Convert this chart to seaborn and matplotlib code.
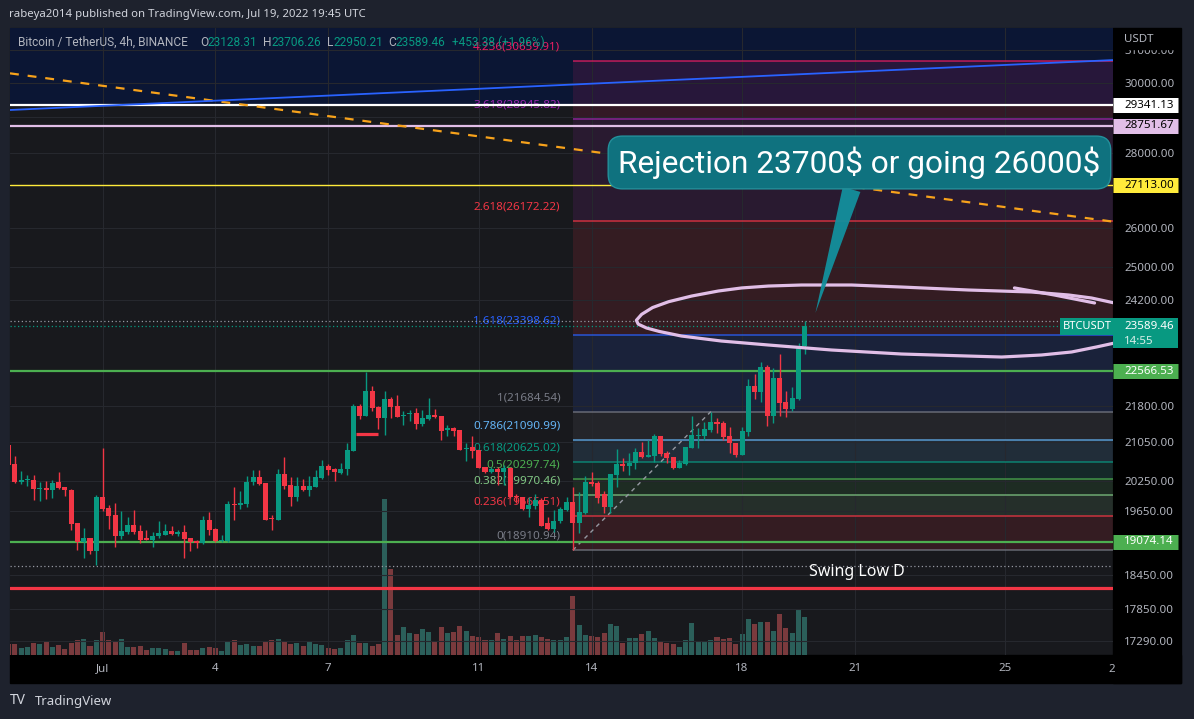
import matplotlib
matplotlib.use("Agg")
import matplotlib.pyplot as plt
import matplotlib.transforms as mtransforms
from matplotlib.patches import Rectangle
from matplotlib.ticker import NullLocator, NullFormatter
import numpy as np
import pandas as pd
import seaborn as sns

# ---- BTCUSDT 4h candles, Jun 28 12:00 -> Jul 19 16:00 ----
opens = [20980, 20590, 20230, 20260, 20270, 20090, 20110, 20060, 20220, 20120,
         20070, 19420, 19070, 19140, 18900, 19930, 19720, 19580, 19170, 19250,
         19390, 19270, 19120, 19110, 19170, 19200, 19270, 19220, 19250, 19140,
         19090, 19040, 19490, 19310, 19080, 19080, 19800, 19780, 19800, 20220,
         20320, 20210, 19510, 19490, 20390, 20170, 19940, 20150, 20070, 20130,
         20310, 20550, 20480, 20410, 20480, 20860, 21810, 21590, 22130, 21790,
         21550, 21960, 21810, 21580, 21630, 21660, 21420, 21520, 21610, 21590,
         21300, 21330, 21300, 20890, 20930, 20870, 20530, 20420, 20480, 20420,
         20520, 19960, 19940, 19690, 19760, 19870, 19430, 19310, 19460, 19680,
         19840, 19430, 19620, 20230, 20210, 19990, 19740, 20370, 20590, 20550,
         20610, 20840, 20740, 20760, 21170, 20820, 20740, 20510, 20590, 20920,
         21170, 21170, 21300, 21460, 21440, 21170, 21020, 20780, 21250, 22240,
         22110, 22660, 21590, 22420, 21890, 21740, 21960, 23128.31]
highs = [20990, 20760, 20450, 20370, 20370, 20230, 20250, 20270, 20430, 20130,
         20090, 19420, 19330, 19140, 19970, 20920, 19770, 19820, 19660, 19540,
         19680, 19380, 19290, 19260, 19470, 19410, 19370, 19300, 19390, 19140,
         19110, 19560, 19640, 19330, 19190, 19850, 20130, 20050, 20350, 20470,
         20470, 20210, 19580, 20500, 20740, 20330, 20330, 20290, 20350, 20470,
         20670, 20590, 20510, 20620, 21020, 21840, 21840, 22540, 22240, 21810,
         22130, 21990, 22050, 21700, 21720, 21760, 21720, 21980, 21740, 21590,
         21400, 21360, 21300, 21020, 21170, 20870, 20530, 20540, 20540, 20570,
         20540, 19990, 19940, 19940, 19990, 19910, 19550, 19680, 19740, 19940,
         20130, 20030, 20350, 20430, 20250, 20050, 20390, 20900, 20710, 20820,
         20920, 21050, 21090, 21210, 21170, 20860, 20740, 20670, 20940, 21590,
         21340, 21460, 21684.54, 21550, 21490, 21360, 21020, 21360, 22400, 22510,
         22780, 22710, 22640, 22960, 22130, 22220, 23210, 23706.26]
lows = [20570, 20210, 20190, 20150, 19870, 19850, 19890, 19910, 20080, 19960,
        19300, 18920, 18760, 18850, 18630, 19660, 19320, 18980, 19130, 19220,
        19220, 19050, 19100, 18980, 19150, 19190, 19190, 19170, 18770, 18900,
        18960, 19020, 19200, 19060, 19070, 19070, 19490, 19690, 19740, 20160,
        20170, 19480, 19290, 19480, 20090, 19760, 19860, 20040, 19960, 20130,
        20280, 20370, 20250, 20390, 20370, 20850, 21530, 21580, 21700, 21320,
        21190, 21550, 21570, 21400, 21490, 21320, 21380, 21510, 21550, 21090,
        21160, 21160, 20870, 20660, 20710, 20510, 20400, 20400, 20170, 20170,
        19910, 19820, 19680, 19550, 19690, 19370, 19290, 19260, 19420, 19660,
        18910.94, 19240, 19600, 20150, 19820, 19620, 19620, 20130, 20450, 20370,
        20490, 20720, 20740, 20630, 20760, 20610, 20490, 20510, 20570, 20920,
        20920, 21090, 21250, 21230, 21090, 20820, 20740, 20780, 21170, 21960,
        21890, 21380, 21440, 21590, 21570, 21700, 21940, 22950.21]
closes = [20570, 20230, 20270, 20290, 20090, 20110, 20060, 20200, 20100, 20060,
          19410, 19070, 19140, 18900, 19930, 19700, 19570, 19170, 19270, 19390,
          19250, 19110, 19110, 19180, 19230, 19270, 19220, 19260, 19130, 19070,
          19040, 19490, 19300, 19080, 19110, 19800, 19780, 19820, 20230, 20320,
          20190, 19490, 19500, 20390, 20150, 19940, 20150, 20070, 20150, 20330,
          20550, 20460, 20420, 20490, 20880, 21810, 21590, 22130, 21770, 21550,
          21960, 21790, 21570, 21620, 21660, 21420, 21550, 21610, 21570, 21270,
          21330, 21280, 20880, 20920, 20850, 20520, 20420, 20480, 20420, 20520,
          19940, 19930, 19690, 19780, 19870, 19370, 19310, 19470, 19690, 19840,
          19430, 19640, 20230, 20190, 19910, 19740, 20390, 20590, 20550, 20610,
          20840, 20740, 20780, 21170, 20800, 20720, 20510, 20610, 20940, 21190,
          21190, 21320, 21460, 21420, 21150, 21020, 20780, 21270, 22240, 22110,
          22660, 21590, 22420, 21870, 21740, 21980, 23128.31, 23589.46]
volumes = [11, 11, 7, 8, 12, 11, 13, 8, 10, 6, 12, 15, 16, 9, 15, 23, 15, 14, 16, 8,
           8, 9, 5, 7, 7, 6, 4, 4, 12, 5, 5, 7, 8, 7, 4, 13, 15, 10, 11, 9,
           9, 13, 15, 16, 14, 11, 12, 9, 13, 11, 10, 7, 6, 7, 15, 20, 12, 12, 9, 11,
           156, 86, 20, 28, 22, 21, 26, 23, 14, 28, 22, 23, 29, 24, 19, 18, 15, 15, 22, 16,
           19, 15, 19, 19, 20, 18, 16, 15, 15, 18, 59, 30, 20, 19, 18, 22, 31, 29, 12, 17,
           17, 21, 24, 17, 14, 12, 11, 8, 15, 32, 14, 14, 15, 18, 16, 17, 11, 21, 36, 31,
           33, 33, 24, 41, 27, 22, 46, 38]

# price scale ticks and date ticks
price_ticks = [17290, 17850, 18450, 19650, 20250, 21050, 21800, 24200, 25000,
               26000, 28000, 29000, 30000, 31000]
hidden_ticks = [29000]                                # sits behind the level boxes
date_ticks = [0, 3, 6, 10, 13, 17, 20, 24]          # days after Jul 1
date_labels = ["Jul", "4", "7", "11", "14", "18", "21", "25"]

# Fibonacci extension (anchored Jul 13 12:00 low -> Jul 17 high)
fib_levels = ["0", "0.236", "0.382", "0.5", "0.618", "0.786", "1", "1.618",
              "2.618", "3.618", "4.236"]
fib_prices = [18910.94, 19565.51, 19970.46, 20297.74, 20625.02, 21090.99,
              21684.54, 23398.62, 26172.22, 28945.82, 30659.91]
fib_colors = ["#787b86", "#f23645", "#81c784", "#4caf50", "#089981", "#64b5f6",
              "#787b86", "#2962ff", "#f23645", "#9c27b0", "#e91e63"]
fib_anchor_days = [12.5, 16.17]

# horizontal drawings
level_white = 29341.13
level_lilac = 28751.67
level_yellow = 27113.00
level_green_hi = 22566.53
level_green_lo = 19074.14
level_red = 18220
level_swing = 18620
last_high = 23706.26
last_close = 23589.46

# trend lines (days after Jul 1, price)
orange_days, orange_prices = [-2.46, 26.86], [30281, 26157]
blue_days, blue_prices = [-2.46, 26.86], [29205, 30680]
red_mark_days, red_mark_price = [6.75, 7.33], 21206

# hand drawn ring around the breakout
ring_days = [26.90, 26.29, 25.68, 24.69, 23.02, 21.24, 19.91, 18.58, 17.70, 16.99,
             16.37, 15.66, 15.05, 14.62, 14.33, 14.19, 14.24, 14.46, 14.80, 15.39, 16.45,
             17.70, 19.38, 21.24, 23.02, 23.90, 24.96, 25.76, 26.42, 26.90]
ring_prices = [24139, 24258, 24330, 24402, 24450, 24522, 24571, 24571, 24546, 24500,
               24426, 24305, 24170, 24030, 23870, 23730, 23640, 23550, 23470, 23364, 23249,
               23158, 23044, 22953, 22907, 22885, 22931, 22999, 23113, 23203]
tail_days, tail_prices = [24.24, 25.3, 26.37], [24500, 24330, 24139]

# ---- style ----
BG = "#18191d"
FRAME = "#1e222d"
GREEN = "#089981"
RED = "#f23645"
TXT = "#b2b5be"
W, H = 1194, 719

sns.set_theme(style="dark", rc={"axes.facecolor": BG, "figure.facecolor": FRAME})
plt.rcParams["font.family"] = ["Noto Sans", "DejaVu Sans"]


def rect(l, t, r, b):
    return [l / W, 1 - b / H, (r - l) / W, (b - t) / H]


fig = plt.figure(figsize=(W / 100, H / 100), dpi=100, facecolor=FRAME)
for (l, t, r, b), c in [((10, 28, 1113, 655), BG), ((1113, 28, 1181, 683), "black"),
                        ((10, 655, 1181, 683), "black")]:
    fig.add_artist(Rectangle((l / W, 1 - b / H), (r - l) / W, (b - t) / H,
                             transform=fig.transFigure, color=c, zorder=-5))

origin = pd.Timestamp("2022-07-01")
times = pd.date_range("2022-06-28 12:00", periods=len(opens), freq="4h")
x = ((times - origin) / pd.Timedelta("1D")).to_numpy()
o, h, l, c = map(np.array, (opens, highs, lows, closes))
up = c >= o
colors = np.where(up, GREEN, RED)
x_left, x_right = -2.46, 26.86
y_low, y_high = 17053, 31667
bar_w = 0.8 / 6

# volume pane (behind the price pane)
vax = fig.add_axes(rect(10, 28, 1113, 655), zorder=0)
vax.patch.set_visible(False)
vax.bar(x, volumes, width=bar_w, color=np.where(up, "#2b5f5a", "#7a3a3d"), linewidth=0)
vax.set_xlim(x_left, x_right)
vax.set_ylim(0, 627)
vax.axis("off")

ax = fig.add_axes(rect(10, 28, 1113, 655), zorder=1)
ax.patch.set_visible(False)
ax.set_yscale("log")
ax.set_axisbelow(True)

# background bands and fib zones
ax.axhspan(level_white, y_high * 1.05, color="#0b1634", lw=0, zorder=0.2)
fib_start = fib_anchor_days[0]
for i in range(1, len(fib_prices)):
    ax.fill_between([fib_start, x_right], fib_prices[i - 1], fib_prices[i],
                    color=fib_colors[i], alpha=0.13, lw=0, zorder=0.3)
ax.hlines(fib_prices, fib_start, x_right, colors=fib_colors, lw=1.1, alpha=0.8, zorder=0.6)
for lvl, p, col in zip(fib_levels, fib_prices, fib_colors):
    ax.annotate(f"{lvl}({p:.2f})", xy=(fib_start, p), xytext=(-9, 10),
                textcoords="offset points", ha="right", va="center",
                color=col, fontsize=8.4, zorder=0.7)
ax.plot(fib_anchor_days, [fib_prices[0], fib_prices[6]], color="#9598a1",
        ls=(0, (3, 3)), lw=1, zorder=2)

# horizontal levels
ax.axhline(level_white, color="white", lw=1.6, zorder=2)
ax.axhline(level_lilac, color="#e1bee7", lw=1.6, zorder=2)
ax.axhline(level_yellow, color="#ffeb3b", lw=1, zorder=2)
ax.axhline(level_green_hi, color="#4caf50", lw=1.6, zorder=2)
ax.axhline(level_green_lo, color="#4caf50", lw=1.6, zorder=2)
ax.axhline(level_red, color=RED, lw=2.3, zorder=2)
ax.axhline(level_swing, color="#9598a1", lw=0.9, ls=(0, (1, 2)), zorder=2)
ax.axhline(last_high, color="#9598a1", lw=0.9, ls=(0, (1, 2)), zorder=2)
ax.axhline(last_close, color=GREEN, lw=0.9, ls=(0, (1, 2)), zorder=2)
ax.hlines(red_mark_price, *red_mark_days, color=RED, lw=2.3, zorder=2)

# trend lines
sns.lineplot(x=orange_days, y=orange_prices, ax=ax, color="#f7a21b", lw=1.6,
             sort=False, estimator=None, zorder=2.5).lines[-1].set_dashes([4, 4])
sns.lineplot(x=blue_days, y=blue_prices, ax=ax, color="#2962ff", lw=1.3,
             sort=False, estimator=None, zorder=2.5)

# candles
ax.vlines(x, l, h, colors=colors, lw=1, zorder=3)
body_lo = np.minimum(o, c)
body_h = np.maximum(np.abs(c - o), body_lo * 0.0012)
ax.bar(x, body_h, bottom=body_lo, width=bar_w, color=colors, lw=0, zorder=4)

# hand drawn ring
for rx, ry in [(ring_days, ring_prices), (tail_days, tail_prices)]:
    sns.lineplot(x=rx, y=ry, ax=ax, color="#e1bee7", lw=2.3, sort=False,
                 estimator=None, zorder=5)
for ln in ax.lines[-2:]:
    ln.set_solid_joinstyle("round")
    ln.set_solid_capstyle("round")

# callout
ax.annotate("Rejection 23700$ or going 26000$", xy=(18.95, 23902), xytext=(20.12, 27730),
            ha="center", va="center", fontsize=22.8, color="white", family="Roboto",
            parse_math=False,
            bbox=dict(boxstyle="round,pad=0.32,rounding_size=0.45", fc="#0f727f",
                      ec="#23909b", lw=1),
            arrowprops=dict(arrowstyle="wedge,tail_width=0.58", fc="#13909d", ec="none",
                            shrinkA=0, shrinkB=0, alpha=0.95),
            zorder=6)
ax.text(18.79, 18509, "Swing Low D", color="white", fontsize=11.5, va="center",
        ha="left", zorder=6)
ax.text(x_right - 0.04, last_close, "BTCUSDT", ha="right", va="center", color="white",
        fontsize=8, fontweight="bold", zorder=7,
        bbox=dict(boxstyle="square,pad=0.25", fc=GREEN, ec="none"))

# axes
ax.set_xlim(x_left, x_right)
ax.set_ylim(y_low, y_high)
ax.set_yticks(price_ticks)
ax.yaxis.set_minor_locator(NullLocator())
ax.yaxis.set_minor_formatter(NullFormatter())
ax.set_yticklabels(["" if v in hidden_ticks else f"{v:.2f}" for v in price_ticks])
ax.yaxis.tick_right()
ax.set_xticks(date_ticks)
ax.set_xticklabels(date_labels)
ax.tick_params(axis="y", length=0, pad=8, labelcolor=TXT, labelsize=8.3)
ax.tick_params(axis="x", length=0, pad=6, labelcolor=TXT, labelsize=8.3)
ax.grid(True, color="#26282e", lw=0.8)
for s in ax.spines.values():
    s.set_visible(False)
ax.set_xlabel("")
ax.set_ylabel("")
ax.text(26.82, -14 / 627, "2", transform=mtransforms.blended_transform_factory(ax.transData, ax.transAxes),
        ha="center", va="center", color=TXT, fontsize=8.3, clip_on=False)

# price scale labels
pax = fig.add_axes(rect(1113, 28, 1180, 655), zorder=2)
pax.set_yscale("log")
pax.set_xlim(0, 1)
pax.set_ylim(y_low, y_high)
pax.axis("off")
pax.add_patch(Rectangle((0, 1 - 21 / 627), 1, 21 / 627, transform=pax.transAxes,
                        color="black", zorder=1))
pax.text(0.165, 1 - 12 / 627, "USDT", transform=pax.transAxes, color=TXT, fontsize=8.3,
         va="center", ha="left", zorder=2)
for p, bg, fg, wt in [(level_white, "white", "black", "normal"),
                      (level_lilac, "#e1bee7", "black", "normal"),
                      (level_yellow, "#ffeb3b", "black", "normal"),
                      (level_green_hi, "#4caf50", "white", "bold"),
                      (level_green_lo, "#4caf50", "white", "bold")]:
    pax.hlines(p, 0, 0.97, colors=bg, lw=10.8, capstyle="butt", zorder=2)
    pax.text(0.165, p, f"{p:.2f}", color=fg, fontsize=8.3, fontweight=wt,
             va="center", ha="left", zorder=3)
shift = mtransforms.offset_copy(pax.transData, fig=fig, y=-7, units="dots")
pax.hlines(last_close, 0, 0.97, colors=GREEN, lw=21.6, capstyle="butt", zorder=2,
           transform=shift)
pax.text(0.165, last_close, f"{last_close:.2f}", color="white", fontsize=8.3,
         fontweight="bold", va="center", ha="left", zorder=3)
pax.text(0.165, last_close, "14:55", color="#d8efe9", fontsize=8.3, va="center", ha="left",
         zorder=3, transform=mtransforms.offset_copy(pax.transData, fig=fig, y=-15, units="dots"))

# header / footer
fig.text(9 / W, 1 - 14 / H, "rabeya2014 published on TradingView.com, Jul 19, 2022 19:45 UTC",
         color="#d1d4dc", fontsize=8.2, va="center")
for xp, s, col in [(18, "Bitcoin / TetherUS, 4h, BINANCE", TXT), (200, "O", TXT),
                   (207, "23128.31", GREEN), (263, "H", TXT), (271, "23706.26", GREEN),
                   (327, "L", TXT), (333, "22950.21", GREEN), (388, "C", TXT),
                   (396, "23589.46", GREEN), (452, "+453.38 (+1.96%)", GREEN)]:
    fig.text(xp / W, 1 - 42 / H, s, color=col, fontsize=8.6, va="center",
             family=["Roboto", "DejaVu Sans"])
fig.text(10 / W, 1 - 701 / H, "TV", color="#d1d4dc", fontsize=10, fontweight="heavy",
         va="center")
fig.text(35 / W, 1 - 701 / H, "TradingView", color="#d1d4dc", fontsize=9.5, va="center")

fig.savefig("out.png", dpi=100, facecolor=FRAME)
